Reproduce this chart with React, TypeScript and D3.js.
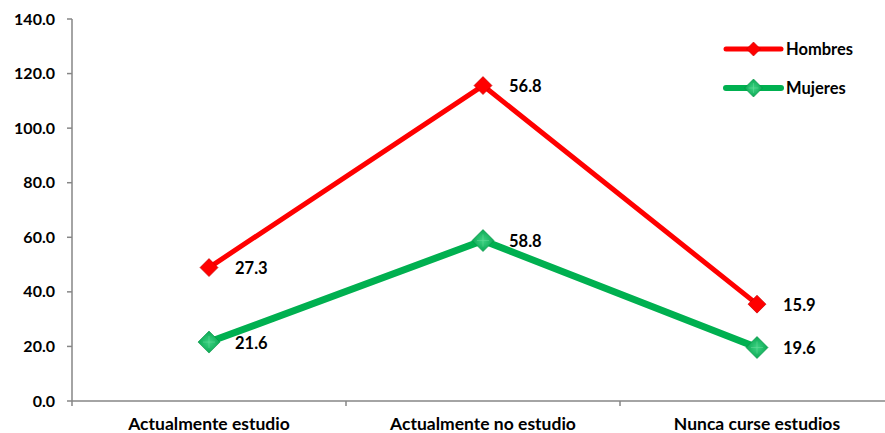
import React from "react";
import * as d3 from "d3";

const categories = ["Actualmente estudio", "Actualmente no estudio", "Nunca curse estudios"];
const seriesNames = ["Mujeres", "Hombres"];
const mujeres = [21.6, 58.8, 19.6];
const hombres = [27.3, 56.8, 15.9];
const yTicks = [0, 20, 40, 60, 80, 100, 120, 140];

const colors: Record<string, string> = { Hombres: "#FF0000", Mujeres: "#00B050" };
const widths: Record<string, number> = { Hombres: 5, Mujeres: 7 };
const font = "Lato, 'Open Sans', 'Liberation Sans', sans-serif";

export default function App() {
  const W = 885, H = 433;
  const left = 72, right = 894, top = 19, bottom = 401;

  const rows = categories.map((c, i) => ({ cat: c, Mujeres: mujeres[i], Hombres: hombres[i] }));
  const stacked = d3.stack<any>().keys(seriesNames)(rows);

  const x = d3.scaleBand().domain(categories).range([left, right]);
  const y = d3.scaleLinear().domain([0, 140]).range([bottom, top]);
  const cx = (c: string) => (x(c) as number) + x.bandwidth() / 2;

  const line = d3.line<[number, number]>().x((d) => d[0]).y((d) => d[1]);

  const legend = ["Hombres", "Mujeres"];
  const legendY: Record<string, number> = { Hombres: 49, Mujeres: 88 };

  const diamond = (px: number, py: number, r: number, fill: string, key: string, shaded: boolean) => (
    <g key={key}>
      <path
        d={`M${px},${py - r}L${px + r},${py}L${px},${py + r}L${px - r},${py}Z`}
        fill={shaded ? "url(#gshade)" : fill}
        stroke={shaded ? "#00913f" : "#c00000"}
        strokeWidth={0.6}
      />
      {shaded && (
        <path
          d={`M${px - r * 0.55},${py}L${px + r * 0.55},${py}M${px},${py - r * 0.55}L${px},${py + r * 0.55}`}
          stroke="#6fe09e"
          strokeWidth={0.8}
          opacity={0.6}
        />
      )}
    </g>
  );

  return (
    <svg width={W} height={H} style={{ position: "absolute", left: 0, top: 0, background: "#fff" }}>
      <defs>
        <radialGradient id="gshade" cx="50%" cy="50%" r="60%">
          <stop offset="0%" stopColor="#3ed283" />
          <stop offset="100%" stopColor="#00a04a" />
        </radialGradient>
      </defs>

      {/* y axis */}
      <line x1={left} x2={left} y1={top} y2={bottom} stroke="#868686" strokeWidth={1.5} />
      {yTicks.map((t) => (
        <g key={t}>
          <line x1={left - 5} x2={left} y1={y(t)} y2={y(t)} stroke="#868686" strokeWidth={1.5} />
          <text
            x={55}
            y={y(t)}
            dy="0.35em"
            textAnchor="end"
            fontFamily={font}
            fontWeight="bold"
            fontSize={16}
            fill="#000"
          >
            {t.toFixed(1)}
          </text>
        </g>
      ))}

      {/* x axis */}
      <line x1={left} x2={right} y1={bottom} y2={bottom} stroke="#868686" strokeWidth={1.5} />
      {categories.map((c, i) => (
        <line
          key={"t" + i}
          x1={x(c) as number}
          x2={x(c) as number}
          y1={bottom}
          y2={bottom + 5}
          stroke="#868686"
          strokeWidth={1.5}
        />
      ))}
      {categories.map((c) => (
        <text
          key={c}
          x={cx(c)}
          y={430}
          textAnchor="middle"
          fontFamily={font}
          fontWeight="bold"
          fontSize={17.5}
          fill="#000"
        >
          {c}
        </text>
      ))}

      {/* series lines (stacked) */}
      {stacked.map((s) => {
        const name = s.key;
        const pts = s.map((d, i) => [cx(categories[i]), y(d[1])] as [number, number]);
        return (
          <path
            key={name}
            d={line(pts) as string}
            fill="none"
            stroke={colors[name]}
            strokeWidth={widths[name]}
            strokeLinejoin="round"
          />
        );
      })}

      {/* markers and value labels */}
      {stacked.map((s) => {
        const name = s.key;
        return s.map((d, i) => {
          const px = cx(categories[i]);
          const py = y(d[1]);
          const own = (d.data as any)[name] as number;
          return (
            <g key={name + i}>
              {diamond(px, py, name === "Mujeres" ? 11 : 9, colors[name], name + "m" + i, name === "Mujeres")}
              <text
                x={px + 26}
                y={py + 1}
                dy="0.35em"
                fontFamily={font}
                fontWeight="bold"
                fontSize={16.5}
                fill="#000"
              >
                {own.toFixed(1)}
              </text>
            </g>
          );
        });
      })}

      {/* legend */}
      {legend.map((name) => (
        <g key={"lg" + name}>
          <line
            x1={726}
            x2={781}
            y1={legendY[name]}
            y2={legendY[name]}
            stroke={colors[name]}
            strokeWidth={name === "Mujeres" ? 6 : 5}
            strokeLinecap="round"
          />
          {diamond(753.5, legendY[name], name === "Mujeres" ? 9 : 7, colors[name], "lm" + name, name === "Mujeres")}
          <text
            x={786}
            y={legendY[name]}
            dy="0.35em"
            fontFamily={font}
            fontWeight="bold"
            fontSize={16.5}
            fill="#000"
          >
            {name}
          </text>
        </g>
      ))}
    </svg>
  );
}
